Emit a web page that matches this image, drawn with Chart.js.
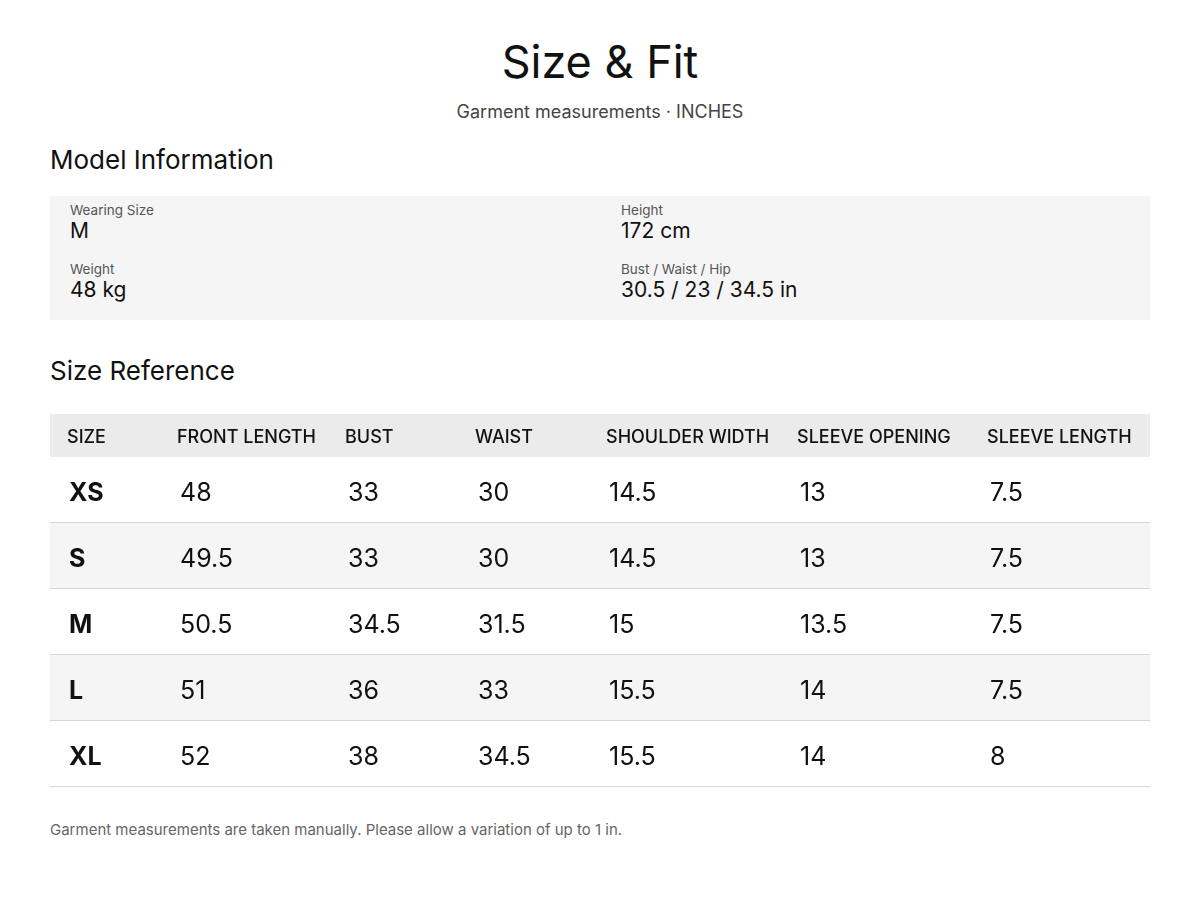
<!DOCTYPE html>
<html><head><meta charset="utf-8">
<script src="https://cdn.jsdelivr.net/npm/chart.js@4/dist/chart.umd.min.js"></script>
<style>
body{margin:0;background:#fff;font-family:Inter,"Noto Sans",sans-serif;color:#111;width:1200px;height:900px;position:relative}
.abs{position:absolute}
#title{left:0;width:1200px;top:34px;text-align:center;font-size:45px;font-weight:400}
#sub{left:0;width:1200px;top:101px;text-align:center;font-size:18px;color:#444}
.h2{left:50px;font-size:26px;font-weight:400}
#box{left:50px;top:196px;width:1100px;height:124px;background:#f5f5f5}
.lab{font-size:13.5px;color:#555}
.val{font-size:21px;color:#111;margin-top:0px}
#foot{left:50px;top:820px;font-size:15px;color:#666}
</style></head><body>
<div id="title" class="abs">Size &amp; Fit</div>
<div id="sub" class="abs">Garment measurements · INCHES</div>
<div class="abs h2" style="top:144px">Model Information</div>
<div id="box" class="abs">
 <div class="abs" style="left:20px;top:6px"><div class="lab">Wearing Size</div><div class="val">M</div></div>
 <div class="abs" style="left:571px;top:6px"><div class="lab">Height</div><div class="val">172 cm</div></div>
 <div class="abs" style="left:20px;top:65px"><div class="lab">Weight</div><div class="val">48 kg</div></div>
 <div class="abs" style="left:571px;top:65px"><div class="lab">Bust / Waist / Hip</div><div class="val">30.5 / 23 / 34.5 in</div></div>
</div>
<div class="abs h2" style="top:355px">Size Reference</div>
<canvas id="c" class="abs" style="left:50px;top:414px" width="1100" height="374"></canvas>
<div id="foot" class="abs">Garment measurements are taken manually. Please allow a variation of up to 1 in.</div>
<script>
const columns = ["SIZE","FRONT LENGTH","BUST","WAIST","SHOULDER WIDTH","SLEEVE OPENING","SLEEVE LENGTH"];
const sizes = ["XS","S","M","L","XL"];
const frontLength = ["48","49.5","50.5","51","52"];
const bust = ["33","33","34.5","36","38"];
const waist = ["30","30","31.5","33","34.5"];
const shoulderWidth = ["14.5","14.5","15","15.5","15.5"];
const sleeveOpening = ["13","13","13.5","14","14"];
const sleeveLength = ["7.5","7.5","7.5","7.5","8"];
const series = [frontLength,bust,waist,shoulderWidth,sleeveOpening,sleeveLength];

// layout (pixels in canvas)
const colX = [17,127,295,425,556,747,937];
const rowEdges = [0,43,109,175,241,307,373];

const tablePlugin = {
  id:'table',
  afterDraw(chart){
    const ctx = chart.ctx, xs = chart.scales.x, ys = chart.scales.y;
    const L = xs.getPixelForValue(0), R = xs.getPixelForValue(1100);
    ctx.save();
    for(let r=0;r<rowEdges.length-1;r++){
      const t = ys.getPixelForValue(rowEdges[r]), b = ys.getPixelForValue(rowEdges[r+1]);
      if(r===0) ctx.fillStyle='#ebebeb'; else ctx.fillStyle = (r%2===0)?'#f5f5f5':'#ffffff';
      ctx.fillRect(L,t,R-L,b-t);
      if(r>0){ctx.fillStyle='#d6d6d6';ctx.fillRect(L,b-1,R-L,1);}
      const cy=(t+b)/2;
      ctx.textBaseline='middle';ctx.textAlign='left';
      if(r===0){
        ctx.font='500 18px Inter, sans-serif';ctx.fillStyle='#111';
        columns.forEach((c,i)=>ctx.fillText(c,xs.getPixelForValue(colX[i]),cy+2));
      } else {
        const k=r-1;
        ctx.font='700 25px Inter, sans-serif';ctx.fillStyle='#111';
        ctx.fillText(sizes[k],xs.getPixelForValue(colX[0]+2),cy+3);
        ctx.font='400 25px Inter, sans-serif';
        series.forEach((s,i)=>ctx.fillText(s[k],xs.getPixelForValue(colX[i+1]+3),cy+3));
      }
    }
    ctx.restore();
  }
};
new Chart(document.getElementById('c'),{
  type:'scatter',
  data:{datasets:[{data:[]}]},
  options:{responsive:false,animation:false,devicePixelRatio:1,layout:{padding:0},
    plugins:{legend:{display:false},tooltip:{enabled:false}},
    scales:{x:{type:'linear',min:0,max:1100,display:false},
            y:{type:'linear',min:0,max:374,reverse:true,display:false}}},
  plugins:[tablePlugin]
});
</script>
</body></html>
